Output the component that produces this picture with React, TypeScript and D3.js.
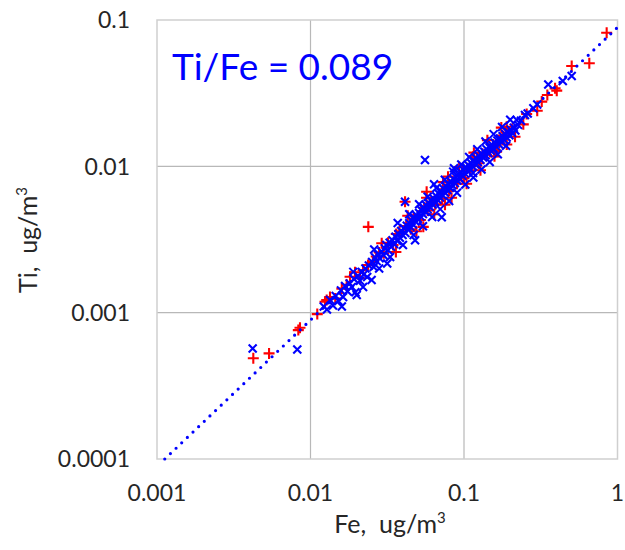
import React from "react";
import * as d3 from "d3";

const xTicks = [0.001, 0.01, 0.1, 1];
const xTickLabels = ["0.001", "0.01", "0.1", "1"];
const yTicks = [0.0001, 0.001, 0.01, 0.1];
const yTickLabels = ["0.0001", "0.001", "0.01", "0.1"];
const slope = 0.089;
const titleText = "Ti/Fe = 0.089";

// [Fe, Ti] in ug/m3
const blueSeries: [number, number][] = [
  [0.0042, 0.00057], [0.0082, 0.00056], [0.0122, 0.0011], [0.0128, 0.00105], [0.0134, 0.00122],
  [0.014, 0.00112], [0.0146, 0.0013], [0.0152, 0.0012], [0.0158, 0.00142], [0.0163, 0.00128],
  [0.0168, 0.00152], [0.0174, 0.0014], [0.018, 0.00158], [0.0186, 0.0015], [0.0192, 0.0017],
  [0.0196, 0.00138], [0.02, 0.00132], [0.0204, 0.00178], [0.021, 0.00165], [0.0216, 0.0019],
  [0.0222, 0.00182], [0.0228, 0.002], [0.0234, 0.00175], [0.024, 0.0021], [0.025, 0.00167],
  [0.0252, 0.00222], [0.0258, 0.00205], [0.0264, 0.00238], [0.027, 0.00225], [0.0276, 0.0025],
  [0.0282, 0.00235], [0.029, 0.00262], [0.0298, 0.00248], [0.0305, 0.00275], [0.0316, 0.00217],
  [0.0312, 0.0029], [0.032, 0.00268], [0.0328, 0.003], [0.0335, 0.00282], [0.0342, 0.00312],
  [0.035, 0.00295], [0.0358, 0.0033], [0.0366, 0.0031], [0.0374, 0.00345], [0.0382, 0.00325],
  [0.039, 0.00362], [0.0398, 0.0034], [0.0406, 0.00378], [0.0413, 0.00573], [0.0415, 0.0035],
  [0.0424, 0.00392], [0.0432, 0.0037], [0.044, 0.00408], [0.0448, 0.00385], [0.0456, 0.00425],
  [0.0465, 0.004], [0.048, 0.00313], [0.0474, 0.00445], [0.0483, 0.0042], [0.0492, 0.00462],
  [0.05, 0.00438], [0.051, 0.0048], [0.052, 0.00455], [0.053, 0.005], [0.054, 0.00472],
  [0.055, 0.0052], [0.0557, 0.01104], [0.056, 0.0049], [0.057, 0.0054], [0.058, 0.00508],
  [0.059, 0.0056], [0.06, 0.00528], [0.0612, 0.0058], [0.0624, 0.00548], [0.0638, 0.00753],
  [0.0636, 0.006], [0.0648, 0.0057], [0.066, 0.00625], [0.0672, 0.00592], [0.0685, 0.0065],
  [0.0698, 0.00612], [0.0716, 0.00448], [0.071, 0.00675], [0.0724, 0.00635], [0.0738, 0.007],
  [0.0752, 0.0066], [0.0766, 0.00728], [0.078, 0.00688], [0.0795, 0.00755], [0.081, 0.00715],
  [0.0825, 0.00785], [0.084, 0.00742], [0.0861, 0.0097], [0.0856, 0.00815], [0.0872, 0.0077],
  [0.0888, 0.00845], [0.0904, 0.008], [0.092, 0.00878], [0.0938, 0.0083], [0.0956, 0.0091],
  [0.0975, 0.00862], [0.0994, 0.00945], [0.1013, 0.00895], [0.1033, 0.0098], [0.1053, 0.00928],
  [0.1074, 0.01015], [0.1095, 0.0096], [0.1116, 0.0105], [0.1145, 0.009], [0.1138, 0.00998],
  [0.116, 0.0109], [0.1183, 0.01035], [0.1206, 0.0113], [0.123, 0.01072], [0.1254, 0.01172],
  [0.1279, 0.0111], [0.1304, 0.01215], [0.133, 0.0115], [0.1356, 0.0126], [0.1383, 0.01192],
  [0.141, 0.01305], [0.1438, 0.01235], [0.1466, 0.01352], [0.1495, 0.0128], [0.1525, 0.014],
  [0.1555, 0.01325], [0.1586, 0.0145], [0.1617, 0.01372], [0.165, 0.015], [0.1683, 0.0142],
  [0.1716, 0.01552], [0.175, 0.0147], [0.1785, 0.01605], [0.182, 0.0152], [0.1858, 0.0166],
  [0.1895, 0.01575], [0.1935, 0.01715], [0.1975, 0.0163], [0.2015, 0.01775], [0.206, 0.0169],
  [0.2205, 0.0207], [0.211, 0.01835], [0.216, 0.0176], [0.225, 0.0192], [0.235, 0.0205],
  [0.2496, 0.02245], [0.26, 0.023], [0.283, 0.0249], [0.3, 0.0265], [0.354, 0.0363],
  [0.44, 0.0383], [0.503, 0.0414],
  [0.016, 0.0011], [0.019, 0.0019], [0.022, 0.0015], [0.026, 0.0027], [0.028, 0.002],
  [0.033, 0.0024], [0.037, 0.0041], [0.04, 0.0029], [0.044, 0.0047], [0.047, 0.0034],
  [0.051, 0.0055], [0.054, 0.0039], [0.058, 0.0062], [0.062, 0.0045], [0.066, 0.0071],
  [0.07, 0.0051], [0.075, 0.0081], [0.08, 0.0058], [0.085, 0.0092], [0.09, 0.0066],
  [0.096, 0.0103], [0.102, 0.0075], [0.108, 0.0116], [0.115, 0.0084], [0.122, 0.0131],
  [0.13, 0.0095], [0.138, 0.0148], [0.147, 0.0107], [0.156, 0.0166], [0.166, 0.0121],
  [0.177, 0.0186], [0.188, 0.0138], [0.2, 0.0208],
];

const redSeries: [number, number][] = [
  [0.00424, 0.000488], [0.00537, 0.000527], [0.00833, 0.00076], [0.00854, 0.000788], [0.01107, 0.000978],
  [0.01243, 0.001187], [0.01275, 0.00122], [0.0134, 0.00128], [0.0145, 0.00125], [0.016, 0.00146],
  [0.0172, 0.00155], [0.0181, 0.00176], [0.0195, 0.00189], [0.021, 0.00172], [0.022, 0.00195],
  [0.0238, 0.00386], [0.0237, 0.002115], [0.0255, 0.00222], [0.0268, 0.00242], [0.028, 0.00258],
  [0.0291, 0.00298], [0.03, 0.00255], [0.032, 0.003], [0.0345, 0.0029], [0.0362, 0.00345],
  [0.038, 0.0036], [0.0413, 0.00573], [0.042, 0.0039], [0.045, 0.00372], [0.047, 0.0044],
  [0.05, 0.00462], [0.052, 0.0043], [0.0543, 0.00386], [0.055, 0.0052], [0.0571, 0.0067],
  [0.058, 0.005], [0.062, 0.00572], [0.065, 0.0055], [0.068, 0.0062], [0.072, 0.006],
  [0.0752, 0.00547], [0.076, 0.007], [0.0787, 0.0085], [0.08, 0.0068], [0.085, 0.0078],
  [0.09, 0.0076], [0.095, 0.0086], [0.1, 0.0083], [0.105, 0.0097], [0.11, 0.0094],
  [0.1145, 0.01164], [0.118, 0.0107], [0.121, 0.01104], [0.125, 0.0105], [0.132, 0.0122],
  [0.14, 0.012], [0.148, 0.0128], [0.155, 0.0141], [0.159, 0.0129], [0.163, 0.0126],
  [0.17, 0.0145], [0.178, 0.0162], [0.1897, 0.01866], [0.195, 0.017], [0.205, 0.018],
  [0.215, 0.01593], [0.2434, 0.01936], [0.256, 0.0228], [0.3, 0.024], [0.321, 0.0277],
  [0.349, 0.0307], [0.392, 0.0341], [0.402, 0.0329], [0.503, 0.0485], [0.655, 0.0506],
  [0.85, 0.0819],
  [0.036, 0.0026], [0.043, 0.0046], [0.049, 0.0036], [0.057, 0.0061], [0.064, 0.0047],
  [0.073, 0.0078], [0.083, 0.0061], [0.093, 0.0099], [0.104, 0.0076], [0.116, 0.0124],
  [0.128, 0.0094], [0.142, 0.0151], [0.158, 0.0117], [0.175, 0.0184], [0.19, 0.0141],
];

const W = 625;
const H = 550;
const plotLeft = 157;
const plotRight = 617.5;
const plotTop = 20;
const plotBottom = 459;

export default function App() {
  const x = d3.scaleLog().domain([0.001, 1]).range([plotLeft, plotRight]);
  const y = d3.scaleLog().domain([0.0001, 0.1]).range([plotBottom, plotTop]);

  const fitStart = 0.0001 / slope;
  const fitPts: [number, number][] = [
    [fitStart, slope * fitStart],
    [1, slope * 1],
  ];
  const line = d3
    .line<[number, number]>()
    .x((d) => x(d[0]))
    .y((d) => y(d[1]));

  const font = "Lato, 'Open Sans', sans-serif";
  const textColor = "#262626";
  const plus = 5.5;
  const cross = 4;

  return (
    <svg
      width={W}
      height={H}
      style={{ position: "absolute", left: 0, top: 0, background: "#fff" }}
      fontFamily={font}
    >
      <rect x={0} y={0} width={W} height={H} fill="#fff" />
      {xTicks.slice(1, -1).map((t) => (
        <line key={"gx" + t} x1={x(t)} x2={x(t)} y1={plotTop} y2={plotBottom} stroke="#b8b8b8" strokeWidth={1.2} />
      ))}
      {yTicks.slice(1, -1).map((t) => (
        <line key={"gy" + t} x1={plotLeft} x2={plotRight} y1={y(t)} y2={y(t)} stroke="#b8b8b8" strokeWidth={1.2} />
      ))}
      <rect
        x={plotLeft}
        y={plotTop}
        width={plotRight - plotLeft}
        height={plotBottom - plotTop}
        fill="none"
        stroke="#cfcfcf"
        strokeWidth={1.5}
      />
      {redSeries.map((d, i) => (
        <path
          key={"r" + i}
          d={`M${x(d[0]) - plus},${y(d[1])}h${2 * plus}M${x(d[0])},${y(d[1]) - plus}v${2 * plus}`}
          stroke="#ff0000"
          strokeWidth={2.1}
          fill="none"
        />
      ))}
      {blueSeries.map((d, i) => (
        <path
          key={"b" + i}
          d={`M${x(d[0]) - cross},${y(d[1]) - cross}l${2 * cross},${2 * cross}M${x(d[0]) - cross},${y(d[1]) + cross}l${2 * cross},${-2 * cross}`}
          stroke="#0000ff"
          strokeWidth={2.1}
          fill="none"
        />
      ))}
      <path
        d={line(fitPts) || ""}
        stroke="#0000ff"
        strokeWidth={3.2}
        strokeLinecap="round"
        strokeDasharray="0 7.8"
        fill="none"
      />
      {xTicks.map((t, i) => (
        <text key={"xt" + t} x={x(t)} y={501} textAnchor="middle" fontSize={23} fill={textColor}>
          {xTickLabels[i]}
        </text>
      ))}
      {yTicks.map((t, i) => (
        <text key={"yt" + t} x={130} y={y(t)} dy="0.36em" textAnchor="end" fontSize={23} fill={textColor}>
          {yTickLabels[i]}
        </text>
      ))}
      <text x={390} y={533} textAnchor="middle" fontSize={25} fill={textColor}>
        {"Fe,\u00a0 ug/m"}
        <tspan fontSize={15} dy={-10}>3</tspan>
      </text>
      <text transform={`translate(37,240) rotate(-90)`} textAnchor="middle" fontSize={25} fill={textColor}>
        {"Ti,\u00a0 ug/m"}
        <tspan fontSize={15} dy={-10}>3</tspan>
      </text>
      <text x={172} y={80} fontSize={37} fill="#0000ff">
        {titleText}
      </text>
    </svg>
  );
}
